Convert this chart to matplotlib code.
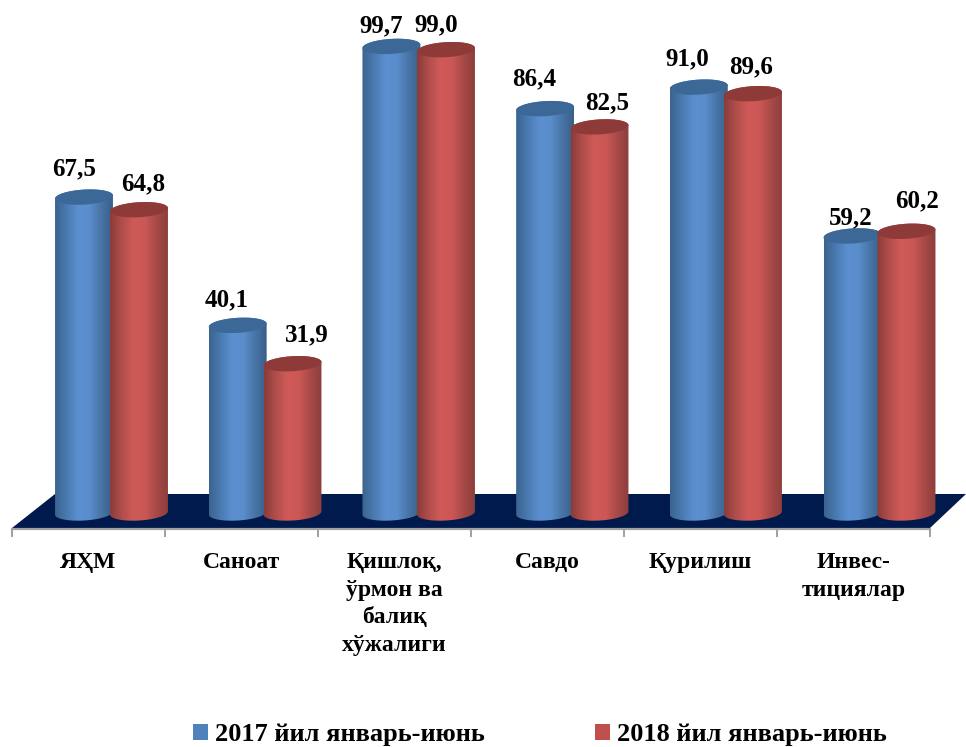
import numpy as np
import matplotlib
matplotlib.use("Agg")
import matplotlib.pyplot as plt
from matplotlib.colors import LinearSegmentedColormap
from matplotlib.patches import Polygon, Patch

categories = ["ЯҲМ", "Саноат", "Қишлоқ,\nўрмон ва\nбалиқ\nхўжалиги", "Савдо", "Қурилиш", "Инвес-\nтициялар"]
series_names = ["2017 йил январь-июнь", "2018 йил январь-июнь"]
values_2017 = [67.5, 40.1, 99.7, 86.4, 91.0, 59.2]
values_2018 = [64.8, 31.9, 99.0, 82.5, 89.6, 60.2]

# label nudges in pixels (dx, dy) relative to the top of each bar
nudge_2017 = [(-10, 28), (-11, 26), (-10, 21), (-11, 30), (-12, 28), (-1.5, 18)]
nudge_2018 = [(4, 26), (14.5, 29), (-10, 25), (7.5, 24), (-2, 27), (10.5, 30)]

W, H = 966, 747
X0, X1, Y0, Y1 = 12, 930, 513, 45
plt.rcParams["font.family"] = ["Liberation Serif", "DejaVu Serif"]
fig = plt.figure(figsize=(W / 100, H / 100), dpi=100)
ax = fig.add_axes([X0 / W, 1 - Y0 / H, (X1 - X0) / W, (Y0 - Y1) / H])
ax.set_xlim(0, len(categories))
ax.set_ylim(0, 100)
ax.patch.set_visible(False)
for s in ["top", "left", "right"]:
    ax.spines[s].set_visible(False)
ax.set_yticks([])
ax.spines["bottom"].set_position(("outward", 11.5))
ax.spines["bottom"].set_color("#a0a0a0")
ax.spines["bottom"].set_linewidth(1.6)
ax.set_xticks(np.arange(len(categories) + 1))
ax.set_xticklabels([])
ax.tick_params(axis="x", which="major", length=5.7, width=1.4, color="#a0a0a0")
ax.set_xticks(np.arange(len(categories)) + 0.5, minor=True)
ax.set_xticklabels(categories, minor=True, fontsize=17, fontweight="bold", linespacing=1.42)
ax.tick_params(axis="x", which="minor", length=0, pad=16.5)

PX = len(categories) / (X1 - X0)
PY = 100 / (Y0 - Y1)

floor = Polygon([(0, -15 * PY), (43 * PX, 19 * PY), (954 * PX, 19 * PY), (918 * PX, -15 * PY)],
                closed=True, facecolor="#001a4d", edgecolor="none", clip_on=False, zorder=1)
ax.add_patch(floor)

blue = LinearSegmentedColormap.from_list("b", ["#3a648f", "#4a7ab0", "#5b8fd0", "#5a8dcb", "#4874a6", "#395f8a"])
red = LinearSegmentedColormap.from_list("r", ["#8a3c3a", "#b04e4b", "#cf5a58", "#cc5856", "#a84a48", "#8c3e3c"])
grad = np.linspace(0, 1, 128)[None, :]

BAR_W = 58
ELL_H = 7.5


def ellipse(cx, cy, tilt, t):
    a, b = BAR_W / 2, ELL_H
    th = np.radians(tilt)
    dx = a * np.cos(t) * np.cos(th) - b * np.sin(t) * np.sin(th)
    dy = a * np.cos(t) * np.sin(th) + b * np.sin(t) * np.cos(th)
    return cx + dx * PX, cy + dy * PY


def cylinder(cx, value, cmap, cap, tilt, z):
    xc, yc = ellipse(cx, value, tilt, np.linspace(0, 2 * np.pi, 100))
    xbb, ybb = ellipse(cx, 0, tilt, np.linspace(np.pi, 2 * np.pi, 60))
    outline = np.column_stack([np.r_[xbb, xc[:50], xbb[0]], np.r_[ybb, yc[:50], ybb[0]]])
    body = Polygon(outline, closed=True, transform=ax.transData, facecolor="none", edgecolor="none", clip_on=False)
    ax.add_patch(body)
    im = ax.imshow(grad, extent=[cx - BAR_W / 2 * PX, cx + BAR_W / 2 * PX, -12 * PY, value + 12 * PY],
                   aspect="auto", cmap=cmap, zorder=z, interpolation="bilinear")
    im.set_clip_box(fig.bbox)
    im.set_clip_path(body)
    ax.add_patch(Polygon(np.column_stack([xc, yc]), closed=True, facecolor=cap, edgecolor="none",
                         zorder=z + 0.1, clip_on=False))


for i in range(len(categories)):
    c1 = (72 + 153.7 * i) / 153
    c2 = (127 + 153.5 * i) / 153
    cylinder(c1, values_2017[i], blue, "#3c6898", 3.5, 2 + i)
    cylinder(c2, values_2018[i], red, "#8e3a38", 3.5, 2.5 + i)
    for c, v, (dx, dy) in ((c1, values_2017[i], nudge_2017[i]), (c2, values_2018[i], nudge_2018[i])):
        ax.text(c + dx * PX, v + dy * PY, f"{v:.1f}".replace(".", ","), ha="center", va="center",
                fontsize=18, fontweight="bold", color="black", zorder=20, clip_on=False)

ax.set_xlim(0, len(categories))
ax.set_ylim(0, 100)

handles = [Patch(facecolor="#4f81bd", label=series_names[0]), Patch(facecolor="#c0504d", label=series_names[1])]
leg = fig.legend(handles=handles, ncol=2, loc="center", bbox_to_anchor=(540 / W, 1 - 735 / H), frameon=False,
                 prop={"size": 19, "weight": "bold"}, handlelength=0.55, handleheight=0.55,
                 handletextpad=0.27, columnspacing=4.2, borderpad=0)

fig.savefig("out.png", dpi=100, facecolor="white")
